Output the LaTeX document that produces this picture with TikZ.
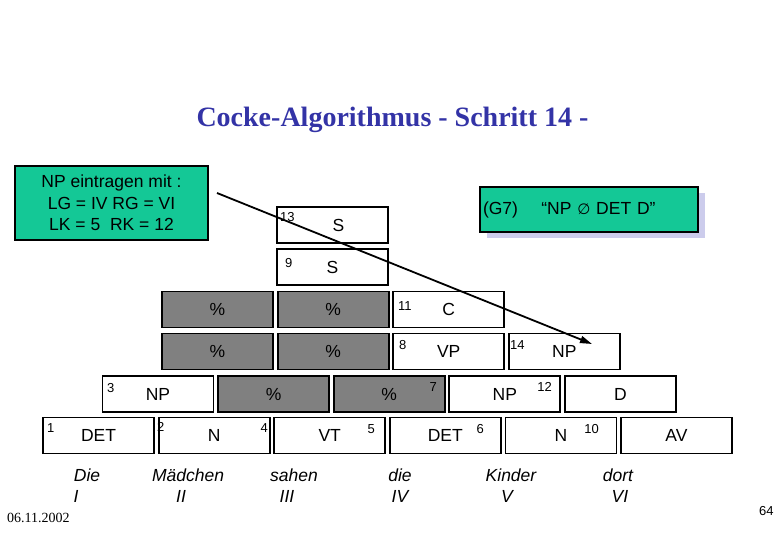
\documentclass[tikz,border=0pt]{standalone}
\usepackage{fontspec}
\setmainfont{Liberation Sans}
\newfontfamily\titlefont{Liberation Serif}
\newfontfamily\symfont{DejaVu Sans}
\usetikzlibrary{arrows.meta, positioning, shadows}
\definecolor{notegreen}{RGB}{20,200,150}
\definecolor{titleblue}{RGB}{51,51,166}
\definecolor{cellgray}{RGB}{128,128,128}
\definecolor{shadowlilac}{RGB}{204,204,236}

\begin{document}
\begin{tikzpicture}[x=1pt, y=-1pt,
			node distance=4.6pt,
			cell/.style={draw, line width=1.8pt, outer sep=0pt, fill=white, minimum width=111pt, minimum height=36pt, inner sep=0pt, font=\fontsize{17.5}{20}\selectfont},
			graycell/.style={cell, fill=cellgray},
			num/.style={inner sep=0pt, font=\fontsize{13}{15}\selectfont},
			word/.style={inner sep=0pt, anchor=base, font=\fontsize{17.5}{20}\selectfont\itshape},
			note/.style={draw, line width=1.8pt, fill=notegreen, inner sep=0pt, font=\fontsize{17.5}{21.5}\selectfont},
			arrow/.style={-{Triangle[length=12pt, width=7pt]}, line width=1.8pt}
		]
		\useasboundingbox (0,0) rectangle (780,540);

		\node[anchor=base, inner sep=0pt, text=titleblue, font=\titlefont\bfseries\fontsize{28}{30}\selectfont] (title) at (392.5,127) {Cocke-Algorithmus - Schritt 14 -};

		\node[note, minimum width=193pt, minimum height=74pt, align=center] (hint) at (111.5,203) {NP eintragen mit :\\LG = IV RG = VI\\LK = 5\ \ RK = 12};
		\node[note, general shadow={fill=shadowlilac, draw=none, shadow xshift=7pt, shadow yshift=-6pt}, minimum height=45pt, text width=212pt, inner xsep=3pt, align=left] (rule) at (589,209.5) {(G7)\quad\ “NP {\symfont\fontsize{15}{15}\selectfont ∅} DET D”};

		\node[cell] (det) at (98.5,435.5) {DET};
		\node[cell, right=of det] (n) {N};
		\node[cell, right=of n] (vt) {VT};
		\node[cell, right=of vt] (detb) {DET};
		\node[cell, right=of detb] (nb) {N};
		\node[cell, right=of nb] (av) {AV};

		\node[cell] (np) at (158,394) {NP};
		\node[graycell, right=of np] (pa) {\%};
		\node[graycell, right=of pa] (pb) {\%};
		\node[cell, right=of pb] (npb) {NP};
		\node[cell, right=of npb] (d) {D};

		\node[graycell] (pc) at (217.5,351.5) {\%};
		\node[graycell, right=of pc] (pd) {\%};
		\node[cell, right=of pd] (vp) {VP};
		\node[cell, right=of vp] (npc) {NP};

		\node[graycell] (pe) at (217.5,309.5) {\%};
		\node[graycell, right=of pe] (pf) {\%};
		\node[cell, right=of pf] (c) {C};

		\node[cell] (s) at (332.5,267) {S};
		\node[cell] (sb) at (332.5,225) {\hspace{12pt}S};

		\node[num, anchor=north west] (num1) at (47,423) {1};
		\node[num, anchor=north west] (num2) at (157,422) {2};
		\node[num, anchor=north east] (num4) at (268,423) {4};
		\node[num, anchor=north east] (num5) at (375,424) {5};
		\node[num, anchor=north east] (num6) at (484,424) {6};
		\node[num, anchor=north east] (num10) at (599,424) {10};
		\node[num, anchor=north west] (num3) at (107,383) {3};
		\node[num, anchor=north east] (num7) at (437,382) {7};
		\node[num, anchor=north east] (num12) at (552,382) {12};
		\node[num, anchor=north west] (num8) at (399,340) {8};
		\node[num, anchor=north west] (num14) at (510,340) {14};
		\node[num, anchor=north west] (num11) at (398,301) {11};
		\node[num, anchor=north west] (num9) at (285,258) {9};
		\node[num, anchor=north west] (num13) at (280,212) {13};

		\node[word] (die) at (87,481) {Die};
		\node[word] (ri) at (76,502) {I};
		\node[word] (maedchen) at (188,481) {Mädchen};
		\node[word] (rii) at (181,502) {II};
		\node[word] (sahen) at (294,481) {sahen};
		\node[word] (riii) at (287,502) {III};
		\node[word] (dieb) at (400,481) {die};
		\node[word] (riv) at (400,502) {IV};
		\node[word] (kinder) at (511,481) {Kinder};
		\node[word] (rv) at (507,502) {V};
		\node[word] (dort) at (618,481) {dort};
		\node[word] (rvi) at (620,502) {VI};

		\node[anchor=base west, inner sep=0pt, font=\titlefont\fontsize{14}{16}\selectfont] (date) at (7,522) {06.11.2002};
		\node[anchor=base west, inner sep=0pt, font=\fontsize{13}{15}\selectfont] (page) at (759,515) {64};

		\coordinate (start) at (217,193);
		\coordinate (tip) at (592,344);
		\draw[arrow] (start) -- (tip);
	\end{tikzpicture}
\end{document}
